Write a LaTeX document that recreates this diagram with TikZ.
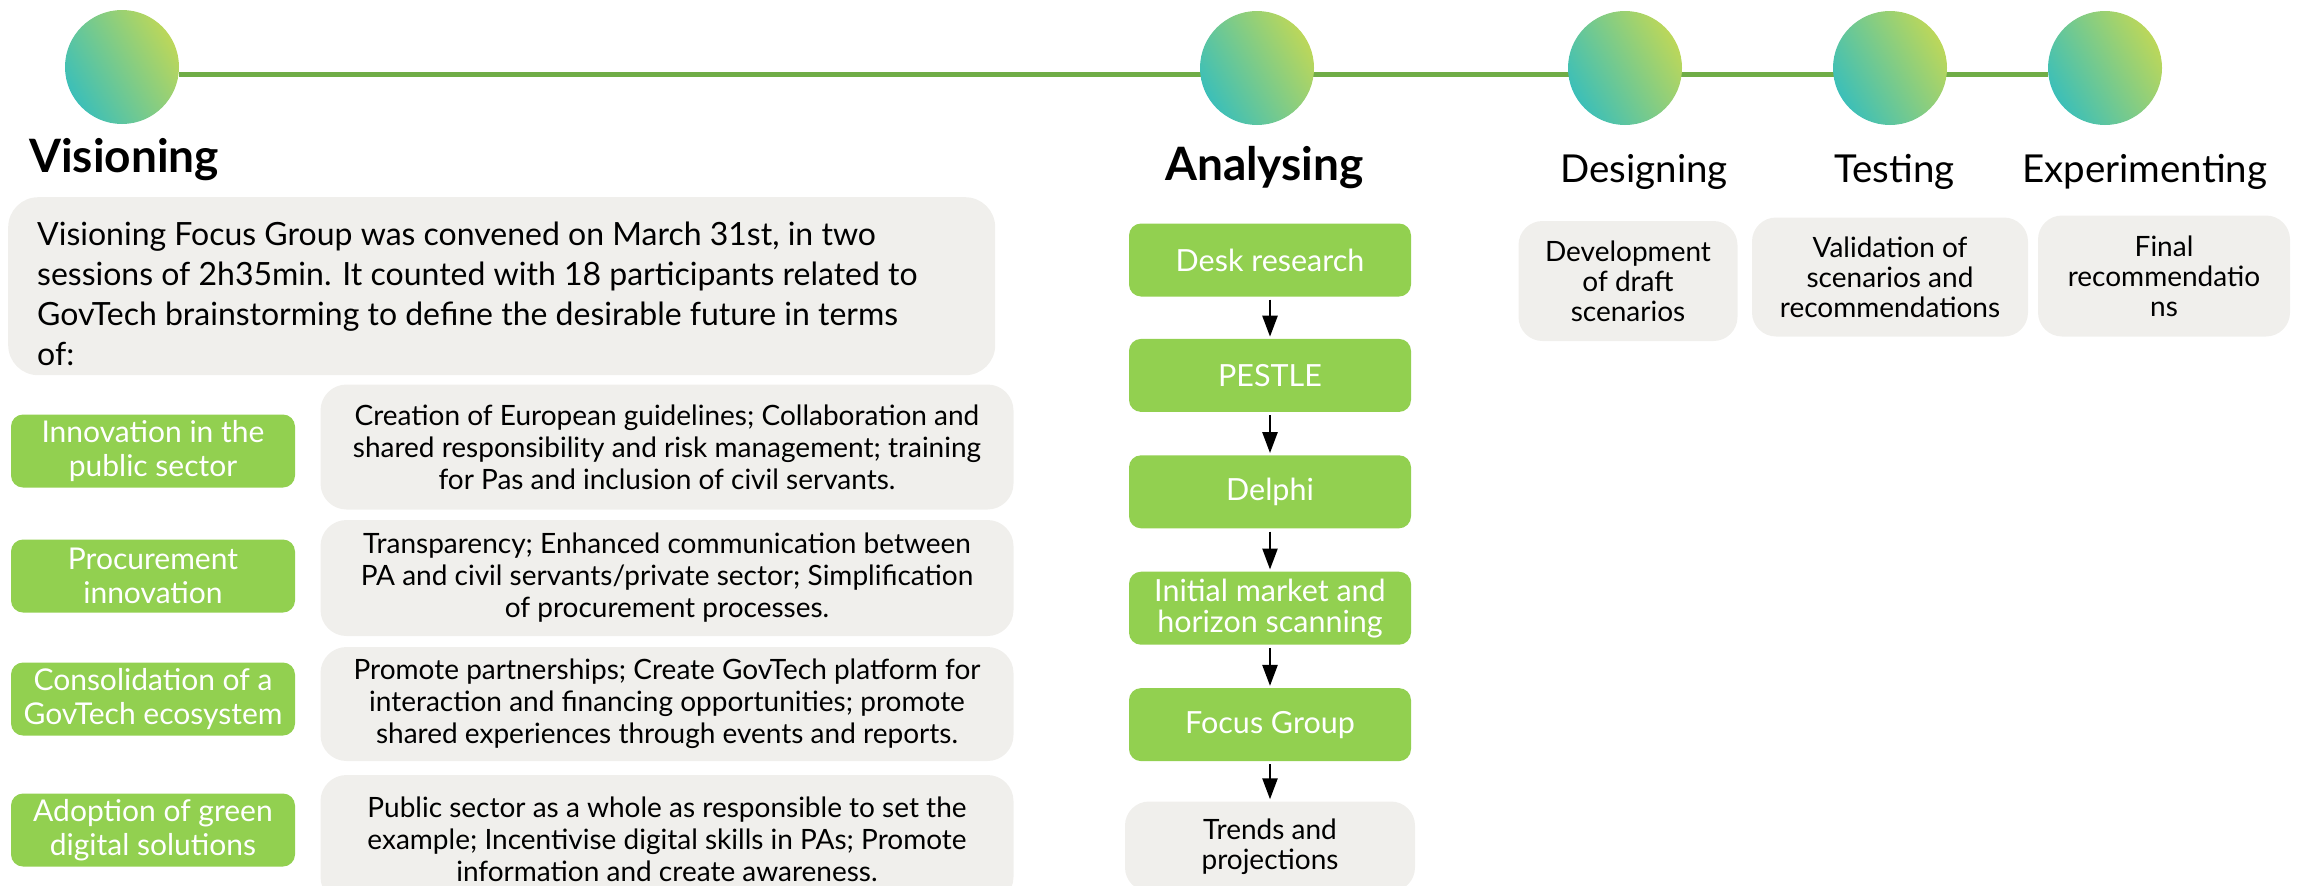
\documentclass[tikz,border=0pt]{standalone}
\usepackage{fontspec}
\setmainfont{Lato}
\usetikzlibrary{positioning, arrows.meta, backgrounds}
\definecolor{stepgreen}{HTML}{92D050}
\definecolor{boxgrey}{HTML}{F0EFEC}
\definecolor{linegreen}{HTML}{70AD47}
\definecolor{dotteal}{HTML}{3CBFB8}
\definecolor{dotlime}{HTML}{BCD75A}

\tikzset{
  phasedot/.style={circle, minimum size=114pt, inner sep=0pt,
    top color=dotlime, bottom color=dotteal, shading angle=-60},
  phasebold/.style={anchor=base west, inner sep=0pt, font=\bfseries\fontsize{46}{52}\selectfont},
  phasename/.style={anchor=base west, inner sep=0pt, font=\fontsize{38.5}{44}\selectfont},
  topicbox/.style={fill=stepgreen, rounded corners=12pt, text=white, align=center,
    minimum width=284pt, minimum height=73pt, inner sep=0pt, font=\fontsize{30}{34}\selectfont},
  notebox/.style={fill=boxgrey, rounded corners=26pt, align=center,
    minimum width=693pt, inner sep=0pt, font=\fontsize{28}{32}\selectfont},
  stepbox/.style={fill=stepgreen, rounded corners=12pt, text=white, align=center,
    minimum width=282pt, minimum height=73pt, inner sep=0pt, font=\fontsize{30.5}{31}\selectfont},
  resultbox/.style={fill=boxgrey, rounded corners=24pt, align=center,
    inner sep=0pt, font=\fontsize{28}{30}\selectfont},
  flow/.style={-{Triangle[width=15pt,length=21pt]}, line width=2.5pt, shorten <=3pt, shorten >=2pt},
}

\begin{document}
\begin{tikzpicture}[x=1pt, y=-1pt]
\useasboundingbox (0,0) rectangle (2305,886);
\clip (0,0) rectangle (2305,886);

\node[phasedot] (visdot) at (122,67) {};
\node[phasedot] (anadot) at (1257,68) {};
\node[phasedot] (desdot) at (1625,68) {};
\node[phasedot] (tesdot) at (1890,68) {};
\node[phasedot] (expdot) at (2105,68) {};
\begin{scope}[on background layer]
  \draw[linegreen, line width=5pt] ([yshift=-7pt]visdot.east) -- ([yshift=-6pt]expdot.west);
\end{scope}

\node[phasebold] (vistitle) at (29,172) {Visioning};
\node[phasebold] (anatitle) at (1165,180) {Analysing};
\node[phasename] (destitle) at (1560,182) {Designing};
\node[phasename] (testitle) at (1834,182) {Testing};
\node[phasename] (exptitle) at (2022,182) {Experimenting};

% visioning
\node[fill=boxgrey, rounded corners=30pt, minimum width=987pt, minimum height=178pt,
      anchor=north west] (intro) at (8,197) {};
\node[anchor=north west, inner sep=0pt, align=left, font=\fontsize{32}{40}\selectfont]
  (introtext) at (37,222) {Visioning Focus Group was convened on March 31st, in two\\
  sessions of 2h35min. It counted with 18 participants related to\\
  GovTech brainstorming to define the desirable future in terms\\
  of:};

\node[topicbox] (innov) at (153,451) {Innovation in the\\public sector};
\node[topicbox] (procure) at (153,576) {Procurement\\innovation};
\node[topicbox] (consol) at (153,699) {Consolidation of a\\GovTech ecosystem};
\node[topicbox] (green) at (153,830) {Adoption of green\\digital solutions};

\node[notebox, minimum height=125pt] (innovnote) at (667,447) {Creation of European guidelines; Collaboration and\\
  shared responsibility and risk management; training\\for Pas and inclusion of civil servants.};
\node[notebox, minimum height=116pt] (procurenote) at (667,578) {Transparency; Enhanced communication between\\
  PA and civil servants/private sector; Simplification\\of procurement processes.};
\node[notebox, minimum height=114pt] (consolnote) at (667,704) {Promote partnerships; Create GovTech platform for\\
  interaction and financing opportunities; promote\\shared experiences through events and reports.};
\node[notebox, minimum height=128pt] (greennote) at (667,839) {Public sector as a whole as responsible to set the\\
  example; Incentivise digital skills in PAs; Promote\\information and create awareness.};

% analysing
\node[stepbox] (desk) at (1270,260) {Desk research};
\node[stepbox, below=42pt of desk] (pestle) {PESTLE};
\node[stepbox, below=43pt of pestle] (delphi) {Delphi};
\node[stepbox, below=43pt of delphi] (market) {Initial market and\\horizon scanning};
\node[stepbox, below=43pt of market] (focus) {Focus Group};
\node[resultbox, minimum width=290pt, minimum height=90pt, below=40pt of focus] (trends) {Trends and\\projections};

\draw[flow] (desk) -- (pestle);
\draw[flow] (pestle) -- (delphi);
\draw[flow] (delphi) -- (market);
\draw[flow] (market) -- (focus);
\draw[flow] (focus) -- (trends);

% designing, testing, experimenting
\node[resultbox, minimum width=219pt, minimum height=120pt] (draft) at (1628,281) {Development\\of draft\\scenarios};
\node[resultbox, minimum width=276pt, minimum height=119pt] (valid) at (1890,277) {Validation of\\scenarios and\\recommendations};
\node[resultbox, minimum width=252pt, minimum height=121pt] (final) at (2164,276) {Final\\recommendatio\\ns};
\end{tikzpicture}
\end{document}
